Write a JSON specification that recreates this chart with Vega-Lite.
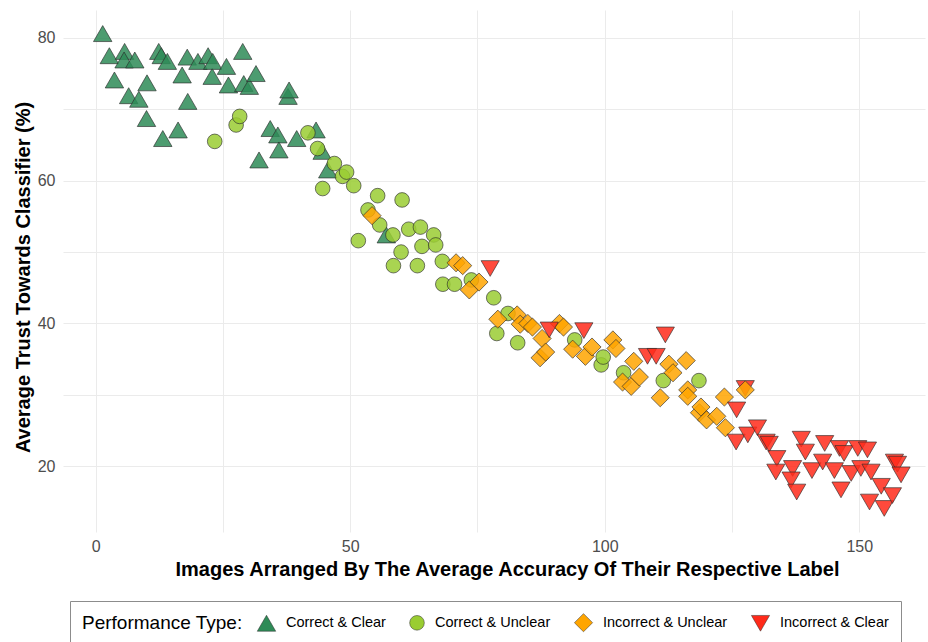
{
  "$schema": "https://vega.github.io/schema/vega-lite/v6.json",
  "width": 862,
  "height": 522,
  "autosize": {"type": "none"},
  "padding": {"left": 63, "top": 10, "right": 3, "bottom": 110},
  "background": "white",
  "config": {
    "font": "Liberation Sans",
    "view": {"stroke": null},
    "axis": {
      "grid": true,
      "gridColor": "#EBEBEB",
      "gridWidth": 1,
      "ticks": false,
      "domain": false,
      "labelColor": "#4D4D4D",
      "labelFontSize": 16,
      "titleFontSize": 20,
      "titleFontWeight": "bold",
      "titleColor": "black"
    }
  },
  "datasets": {
    "pts": [
      {"x": 1.4, "y": 80.6, "type": "Correct & Clear"},
      {"x": 2.7, "y": 77.5, "type": "Correct & Clear"},
      {"x": 3.7, "y": 74.1, "type": "Correct & Clear"},
      {"x": 5.7, "y": 78.1, "type": "Correct & Clear"},
      {"x": 5.6, "y": 76.9, "type": "Correct & Clear"},
      {"x": 6.5, "y": 71.9, "type": "Correct & Clear"},
      {"x": 7.7, "y": 76.9, "type": "Correct & Clear"},
      {"x": 8.5, "y": 71.4, "type": "Correct & Clear"},
      {"x": 10.0, "y": 68.7, "type": "Correct & Clear"},
      {"x": 10.1, "y": 73.7, "type": "Correct & Clear"},
      {"x": 12.4, "y": 78.1, "type": "Correct & Clear"},
      {"x": 12.9, "y": 77.5, "type": "Correct & Clear"},
      {"x": 13.2, "y": 65.9, "type": "Correct & Clear"},
      {"x": 14.1, "y": 76.7, "type": "Correct & Clear"},
      {"x": 16.2, "y": 67.1, "type": "Correct & Clear"},
      {"x": 17.0, "y": 74.8, "type": "Correct & Clear"},
      {"x": 18.0, "y": 77.3, "type": "Correct & Clear"},
      {"x": 18.1, "y": 71.1, "type": "Correct & Clear"},
      {"x": 20.1, "y": 76.7, "type": "Correct & Clear"},
      {"x": 22.1, "y": 77.5, "type": "Correct & Clear"},
      {"x": 22.9, "y": 74.6, "type": "Correct & Clear"},
      {"x": 23.0, "y": 76.7, "type": "Correct & Clear"},
      {"x": 25.7, "y": 76.0, "type": "Correct & Clear"},
      {"x": 26.1, "y": 73.4, "type": "Correct & Clear"},
      {"x": 28.9, "y": 78.1, "type": "Correct & Clear"},
      {"x": 29.1, "y": 73.6, "type": "Correct & Clear"},
      {"x": 30.2, "y": 73.2, "type": "Correct & Clear"},
      {"x": 31.5, "y": 75.0, "type": "Correct & Clear"},
      {"x": 32.1, "y": 62.9, "type": "Correct & Clear"},
      {"x": 34.3, "y": 67.3, "type": "Correct & Clear"},
      {"x": 35.8, "y": 66.4, "type": "Correct & Clear"},
      {"x": 36.0, "y": 64.3, "type": "Correct & Clear"},
      {"x": 37.8, "y": 71.8, "type": "Correct & Clear"},
      {"x": 38.0, "y": 72.7, "type": "Correct & Clear"},
      {"x": 39.5, "y": 65.9, "type": "Correct & Clear"},
      {"x": 43.3, "y": 67.1, "type": "Correct & Clear"},
      {"x": 44.5, "y": 64.1, "type": "Correct & Clear"},
      {"x": 45.6, "y": 61.5, "type": "Correct & Clear"},
      {"x": 57.1, "y": 52.4, "type": "Correct & Clear"},
      {"x": 23.4, "y": 65.5, "type": "Correct & Unclear"},
      {"x": 27.6, "y": 67.8, "type": "Correct & Unclear"},
      {"x": 28.3, "y": 69.0, "type": "Correct & Unclear"},
      {"x": 41.7, "y": 66.7, "type": "Correct & Unclear"},
      {"x": 43.6, "y": 64.5, "type": "Correct & Unclear"},
      {"x": 44.6, "y": 58.9, "type": "Correct & Unclear"},
      {"x": 46.9, "y": 62.4, "type": "Correct & Unclear"},
      {"x": 48.5, "y": 60.6, "type": "Correct & Unclear"},
      {"x": 49.3, "y": 61.2, "type": "Correct & Unclear"},
      {"x": 50.7, "y": 59.3, "type": "Correct & Unclear"},
      {"x": 51.6, "y": 51.6, "type": "Correct & Unclear"},
      {"x": 53.5, "y": 55.9, "type": "Correct & Unclear"},
      {"x": 55.4, "y": 57.9, "type": "Correct & Unclear"},
      {"x": 55.8, "y": 53.8, "type": "Correct & Unclear"},
      {"x": 58.4, "y": 52.4, "type": "Correct & Unclear"},
      {"x": 58.5, "y": 48.1, "type": "Correct & Unclear"},
      {"x": 60.0, "y": 50.0, "type": "Correct & Unclear"},
      {"x": 60.2, "y": 57.3, "type": "Correct & Unclear"},
      {"x": 61.5, "y": 53.2, "type": "Correct & Unclear"},
      {"x": 63.2, "y": 48.1, "type": "Correct & Unclear"},
      {"x": 63.8, "y": 53.5, "type": "Correct & Unclear"},
      {"x": 64.1, "y": 50.8, "type": "Correct & Unclear"},
      {"x": 66.4, "y": 52.4, "type": "Correct & Unclear"},
      {"x": 66.8, "y": 51.0, "type": "Correct & Unclear"},
      {"x": 68.1, "y": 48.7, "type": "Correct & Unclear"},
      {"x": 68.2, "y": 45.5, "type": "Correct & Unclear"},
      {"x": 70.5, "y": 45.5, "type": "Correct & Unclear"},
      {"x": 73.8, "y": 46.1, "type": "Correct & Unclear"},
      {"x": 78.2, "y": 43.6, "type": "Correct & Unclear"},
      {"x": 78.8, "y": 38.6, "type": "Correct & Unclear"},
      {"x": 81.0, "y": 41.4, "type": "Correct & Unclear"},
      {"x": 82.9, "y": 37.3, "type": "Correct & Unclear"},
      {"x": 94.1, "y": 37.7, "type": "Correct & Unclear"},
      {"x": 99.3, "y": 34.2, "type": "Correct & Unclear"},
      {"x": 99.7, "y": 35.3, "type": "Correct & Unclear"},
      {"x": 103.7, "y": 33.1, "type": "Correct & Unclear"},
      {"x": 111.5, "y": 32.0, "type": "Correct & Unclear"},
      {"x": 118.5, "y": 32.0, "type": "Correct & Unclear"},
      {"x": 54.3, "y": 55.1, "type": "Incorrect & Unclear"},
      {"x": 70.8, "y": 48.5, "type": "Incorrect & Unclear"},
      {"x": 72.1, "y": 48.1, "type": "Incorrect & Unclear"},
      {"x": 73.4, "y": 44.7, "type": "Incorrect & Unclear"},
      {"x": 75.3, "y": 45.8, "type": "Incorrect & Unclear"},
      {"x": 79.0, "y": 40.6, "type": "Incorrect & Unclear"},
      {"x": 82.8, "y": 41.2, "type": "Incorrect & Unclear"},
      {"x": 83.4, "y": 39.9, "type": "Incorrect & Unclear"},
      {"x": 84.9, "y": 40.0, "type": "Incorrect & Unclear"},
      {"x": 85.8, "y": 39.5, "type": "Incorrect & Unclear"},
      {"x": 87.3, "y": 35.2, "type": "Incorrect & Unclear"},
      {"x": 87.7, "y": 37.9, "type": "Incorrect & Unclear"},
      {"x": 88.4, "y": 36.0, "type": "Incorrect & Unclear"},
      {"x": 91.1, "y": 40.0, "type": "Incorrect & Unclear"},
      {"x": 91.9, "y": 39.5, "type": "Incorrect & Unclear"},
      {"x": 93.7, "y": 36.4, "type": "Incorrect & Unclear"},
      {"x": 96.2, "y": 35.4, "type": "Incorrect & Unclear"},
      {"x": 97.5, "y": 36.7, "type": "Incorrect & Unclear"},
      {"x": 101.6, "y": 37.7, "type": "Incorrect & Unclear"},
      {"x": 102.2, "y": 36.5, "type": "Incorrect & Unclear"},
      {"x": 103.5, "y": 31.8, "type": "Incorrect & Unclear"},
      {"x": 105.2, "y": 31.2, "type": "Incorrect & Unclear"},
      {"x": 105.7, "y": 34.7, "type": "Incorrect & Unclear"},
      {"x": 106.8, "y": 32.5, "type": "Incorrect & Unclear"},
      {"x": 110.9, "y": 29.6, "type": "Incorrect & Unclear"},
      {"x": 112.6, "y": 34.3, "type": "Incorrect & Unclear"},
      {"x": 113.4, "y": 33.1, "type": "Incorrect & Unclear"},
      {"x": 116.0, "y": 34.8, "type": "Incorrect & Unclear"},
      {"x": 116.3, "y": 30.7, "type": "Incorrect & Unclear"},
      {"x": 116.3, "y": 29.8, "type": "Incorrect & Unclear"},
      {"x": 118.6, "y": 27.5, "type": "Incorrect & Unclear"},
      {"x": 118.9, "y": 28.3, "type": "Incorrect & Unclear"},
      {"x": 120.0, "y": 26.5, "type": "Incorrect & Unclear"},
      {"x": 122.0, "y": 27.0, "type": "Incorrect & Unclear"},
      {"x": 123.5, "y": 29.7, "type": "Incorrect & Unclear"},
      {"x": 123.7, "y": 25.4, "type": "Incorrect & Unclear"},
      {"x": 77.5, "y": 47.7, "type": "Incorrect & Clear"},
      {"x": 89.1, "y": 39.1, "type": "Incorrect & Clear"},
      {"x": 95.9, "y": 39.0, "type": "Incorrect & Clear"},
      {"x": 108.4, "y": 35.4, "type": "Incorrect & Clear"},
      {"x": 110.1, "y": 35.4, "type": "Incorrect & Clear"},
      {"x": 111.9, "y": 38.4, "type": "Incorrect & Clear"},
      {"x": 125.9, "y": 27.9, "type": "Incorrect & Clear"},
      {"x": 127.6, "y": 30.9, "type": "Incorrect & Clear"},
      {"x": 125.8, "y": 23.4, "type": "Incorrect & Clear"},
      {"x": 128.1, "y": 24.4, "type": "Incorrect & Clear"},
      {"x": 130.0, "y": 25.4, "type": "Incorrect & Clear"},
      {"x": 131.7, "y": 23.4, "type": "Incorrect & Clear"},
      {"x": 132.3, "y": 23.1, "type": "Incorrect & Clear"},
      {"x": 133.8, "y": 21.1, "type": "Incorrect & Clear"},
      {"x": 133.6, "y": 19.2, "type": "Incorrect & Clear"},
      {"x": 136.9, "y": 19.7, "type": "Incorrect & Clear"},
      {"x": 136.6, "y": 18.1, "type": "Incorrect & Clear"},
      {"x": 137.7, "y": 16.4, "type": "Incorrect & Clear"},
      {"x": 138.6, "y": 23.8, "type": "Incorrect & Clear"},
      {"x": 139.4, "y": 22.0, "type": "Incorrect & Clear"},
      {"x": 140.7, "y": 19.4, "type": "Incorrect & Clear"},
      {"x": 142.8, "y": 20.6, "type": "Incorrect & Clear"},
      {"x": 143.2, "y": 23.2, "type": "Incorrect & Clear"},
      {"x": 145.1, "y": 19.4, "type": "Incorrect & Clear"},
      {"x": 146.1, "y": 22.5, "type": "Incorrect & Clear"},
      {"x": 147.0, "y": 21.8, "type": "Incorrect & Clear"},
      {"x": 146.4, "y": 16.7, "type": "Incorrect & Clear"},
      {"x": 148.4, "y": 19.0, "type": "Incorrect & Clear"},
      {"x": 149.7, "y": 22.5, "type": "Incorrect & Clear"},
      {"x": 150.3, "y": 19.7, "type": "Incorrect & Clear"},
      {"x": 151.6, "y": 22.3, "type": "Incorrect & Clear"},
      {"x": 152.3, "y": 19.2, "type": "Incorrect & Clear"},
      {"x": 152.0, "y": 15.0, "type": "Incorrect & Clear"},
      {"x": 154.3, "y": 17.2, "type": "Incorrect & Clear"},
      {"x": 154.9, "y": 14.1, "type": "Incorrect & Clear"},
      {"x": 156.5, "y": 15.9, "type": "Incorrect & Clear"},
      {"x": 156.9, "y": 20.6, "type": "Incorrect & Clear"},
      {"x": 157.5, "y": 20.3, "type": "Incorrect & Clear"},
      {"x": 158.2, "y": 18.8, "type": "Incorrect & Clear"},
      {"x": 127.6, "y": 30.7, "type": "Incorrect & Unclear"}
    ]
  },
  "layer": [
    {
      "data": {"name": "pts"},
      "mark": {"type": "point", "filled": true, "stroke": "#2b2b2b", "strokeWidth": 0.8, "strokeOpacity": 0.8, "fillOpacity": 0.85},
      "encoding": {
        "x": {
          "field": "x", "type": "quantitative",
          "scale": {"domain": [-6.4, 162.9], "nice": false, "zero": false},
          "axis": {
            "values": [0, 25, 50, 75, 100, 125, 150],
            "labelExpr": "datum.value % 50 === 0 ? datum.label : ''",
            "labelPadding": 6,
            "titlePadding": 5,
            "titleX": 444,
            "title": "Images Arranged By The Average Accuracy Of Their Respective Label"
          }
        },
        "y": {
          "field": "y", "type": "quantitative",
          "scale": {"domain": [10.8, 83.9], "nice": false, "zero": false},
          "axis": {
            "values": [20, 30, 40, 50, 60, 70, 80],
            "labelExpr": "datum.value % 20 === 0 ? datum.label : ''",
            "labelPadding": 8,
            "titlePadding": 4,
            "titleY": 267,
            "title": "Average Trust Towards Classifier (%)"
          }
        },
        "fill": {
          "field": "type", "type": "nominal",
          "scale": {
            "domain": ["Correct & Clear", "Correct & Unclear", "Incorrect & Unclear", "Incorrect & Clear"],
            "range": ["#2E8B57", "#9ACD32", "#FFA500", "#FF2A1A"]
          },
          "legend": {
            "orient": "none", "legendX": 7, "legendY": 591,
            "direction": "horizontal",
            "title": "Performance Type:",
            "titleOrient": "left",
            "titleFontSize": 19, "titleFontWeight": "normal", "titleColor": "black",
            "titleBaseline": "middle",
            "titlePadding": 14,
            "labelFontSize": 14.5, "labelColor": "black",
            "symbolStrokeWidth": 0.5,
            "columnPadding": 22, "labelOffset": 10,
            "strokeColor": "#8C8C8C", "padding": 12
          }
        },
        "shape": {
          "field": "type", "type": "nominal",
          "scale": {
            "domain": ["Correct & Clear", "Correct & Unclear", "Incorrect & Unclear", "Incorrect & Clear"],
            "range": ["triangle-up", "circle", "diamond", "triangle-down"]
          }
        },
        "size": {
          "field": "type", "type": "nominal",
          "scale": {
            "type": "ordinal",
            "domain": ["Correct & Clear", "Correct & Unclear", "Incorrect & Unclear", "Incorrect & Clear"],
            "range": [340, 215, 330, 330]
          }
        }
      }
    },
    {
      "mark": {"type": "rule", "color": "black", "strokeDash": [6, 4], "strokeWidth": 1.5},
      "encoding": {"y": {"datum": 40.4, "type": "quantitative"}}
    }
  ]
}
